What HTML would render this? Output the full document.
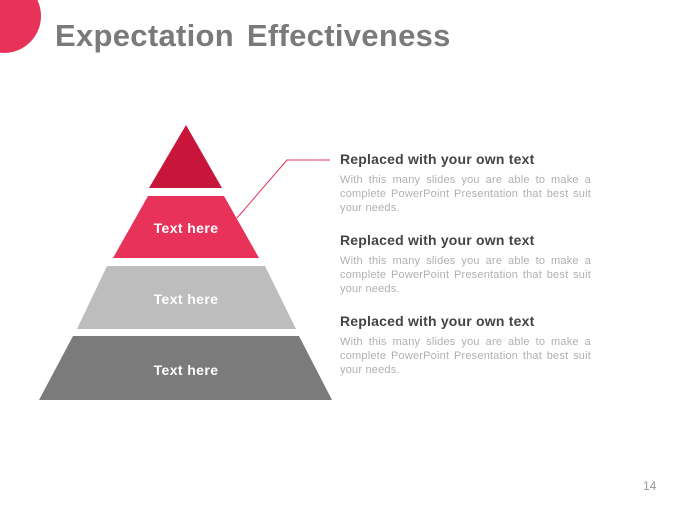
<!DOCTYPE html>
<html><head><style>
body{margin:0;width:680px;height:510px;background:#fff;position:relative;overflow:hidden;font-family:"Liberation Sans",sans-serif}
.t{position:absolute;left:55px;top:18px;font-size:31px;font-weight:bold;color:#7a7a7a;letter-spacing:0.3px;word-spacing:4px}
.h{position:absolute;left:340px;font-size:14px;font-weight:bold;color:#444;width:260px;letter-spacing:0.2px}
.b{position:absolute;left:340px;width:251px;font-size:11px;line-height:14px;color:#b0b0b0;text-align:justify;letter-spacing:0.2px}
.n{position:absolute;left:643px;top:479px;font-size:12px;color:#999}
</style></head><body>
<svg width="680" height="510" style="position:absolute;left:0;top:0">
<circle cx="4" cy="16" r="37" fill="#e8325a"/>
<polygon points="186,125 222,188 149,188" fill="#c8163a"/>
<polygon points="148,196 224,196 259,258 113,258" fill="#e8325a"/>
<polygon points="107,266 265,266 296,329 77,329" fill="#bdbdbd"/>
<polygon points="73,336 299,336 332,400 39,400" fill="#7b7b7b"/>
<polyline points="237,218 287,160 330,160" fill="none" stroke="#e8325a" stroke-width="1"/>
<g font-family="Liberation Sans, sans-serif" font-weight="bold" font-size="14" fill="#fff" text-anchor="middle" letter-spacing="0.4">
<text x="186" y="233">Text here</text>
<text x="186" y="304">Text here</text>
<text x="186" y="375">Text here</text>
</g>
</svg>
<div class="t">Expectation Effectiveness</div>
<div class="h" style="top:151px">Replaced with your own text</div>
<div class="b" style="top:173px">With this many slides you are able to make a complete PowerPoint Presentation that best suit your needs.</div>
<div class="h" style="top:232px">Replaced with your own text</div>
<div class="b" style="top:254px">With this many slides you are able to make a complete PowerPoint Presentation that best suit your needs.</div>
<div class="h" style="top:313px">Replaced with your own text</div>
<div class="b" style="top:335px">With this many slides you are able to make a complete PowerPoint Presentation that best suit your needs.</div>
<div class="n">14</div>
</body></html>
